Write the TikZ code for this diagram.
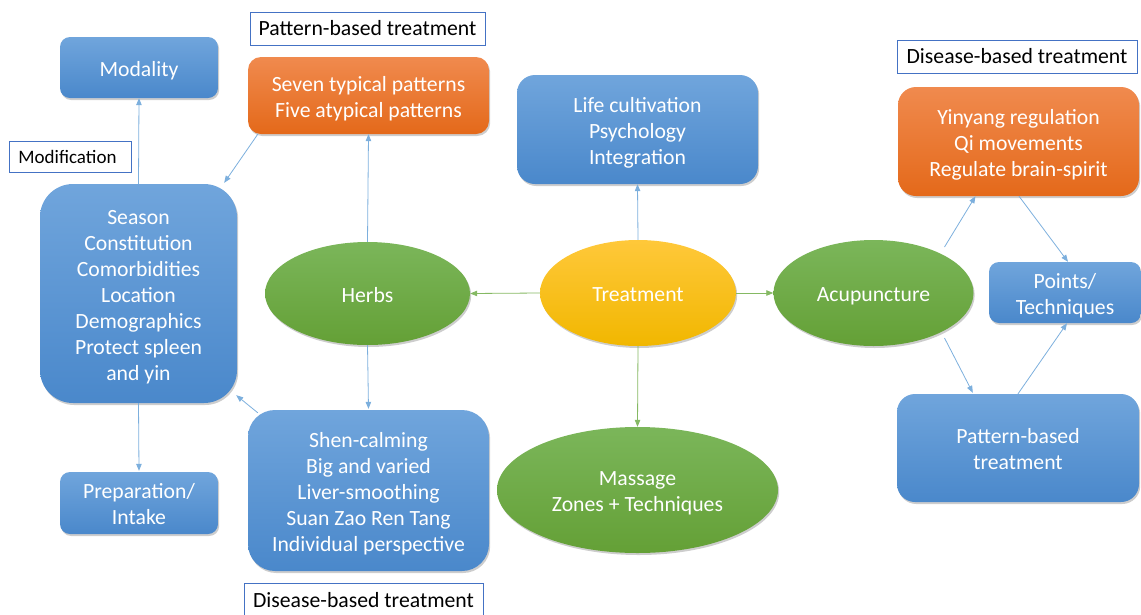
\documentclass[tikz,border=0pt]{standalone}
\usepackage{fontspec}
\setmainfont{Carlito}
\usetikzlibrary{shapes.geometric,shadows,arrows.meta}

\definecolor{blueTop}{HTML}{70A5DC}
\definecolor{blueBot}{HTML}{4A88CB}
\definecolor{orTop}{HTML}{F08A4E}
\definecolor{orBot}{HTML}{E4691A}
\definecolor{grTop}{HTML}{7BB65A}
\definecolor{grBot}{HTML}{64A036}
\definecolor{yeTop}{HTML}{FFC83A}
\definecolor{yeBot}{HTML}{F1B700}
\definecolor{lineBlue}{HTML}{5B9BD5}
\definecolor{lineGreen}{HTML}{70AD47}
\definecolor{tagBorder}{HTML}{4472C4}

% centred lines of text, set a little below the shape's middle
\newcommand\boxlines[1]{\raisebox{-3.5pt}[\height][\depth]{\begin{tabular}{@{}c@{}}#1\end{tabular}}}

\tikzset{
  txt/.style={font=\fontsize{21.7}{26}\selectfont, text=white, inner sep=0pt},
  shade/.style={drop shadow={shadow xshift=1.2pt, shadow yshift=-2pt, opacity=0.28, fill=black!70}},
  bluebox/.style={txt, shade, top color=blueTop, bottom color=blueBot, draw=none},
  orangebox/.style={txt, shade, top color=orTop, bottom color=orBot, draw=none},
  greenell/.style={txt, shade, ellipse, top color=grTop, bottom color=grBot, draw=none},
  yellowell/.style={txt, shade, ellipse, top color=yeTop, bottom color=yeBot, draw=none},
  tag/.style={draw=tagBorder, line width=0.9pt, fill=white, text=black,
    font=\fontsize{21.7}{26}\selectfont, inner sep=0pt},
  bl/.style={draw=lineBlue!80, line width=0.8pt, -{Triangle[length=7pt,width=5.5pt]}},
  gl/.style={draw=lineGreen!85, line width=0.8pt, -{Triangle[length=7pt,width=5.5pt]}},
}

\begin{document}
\begin{tikzpicture}[x=1pt,y=-1pt]
\useasboundingbox (0,0) rectangle (1141,614);

% central hub and the three branches
\node[yellowell, minimum width=196pt, minimum height=106pt] (treat) at (638,293) {\boxlines{Treatment}};
\node[greenell, minimum width=205pt, minimum height=103pt] (herbs) at (367.5,293.5) {\boxlines{Herbs}};
\node[greenell, minimum width=200pt, minimum height=106pt] (acu) at (873.5,293) {\boxlines{Acupuncture}};
\node[greenell, minimum width=281pt, minimum height=126pt] (mass) at (637.5,490) {\boxlines{Massage\\Zones + Techniques}};
\node[bluebox, rounded corners=18pt, minimum width=241pt, minimum height=109pt] (life) at (637.5,129.5)
  {\boxlines{Life cultivation\\Psychology\\Integration}};

% herbs side
\node[orangebox, rounded corners=13pt, minimum width=241pt, minimum height=77pt] (pat) at (368.5,95.5)
  {\boxlines{Seven typical patterns\\Five atypical patterns}};
\node[bluebox, rounded corners=27pt, minimum width=241pt, minimum height=161pt] (shen) at (368.5,490.5)
  {\boxlines{Shen-calming\\Big and varied\\Liver-smoothing\\Suan Zao Ren Tang\\Individual perspective}};
\node[bluebox, rounded corners=33pt, minimum width=197pt, minimum height=219pt] (mod) at (138.5,293.5)
  {\boxlines{Season\\Constitution\\Comorbidities\\Location\\Demographics\\Protect spleen\\and yin}};
\node[bluebox, rounded corners=10pt, minimum width=158pt, minimum height=61pt] (modal) at (139,67.5) {\boxlines{Modality}};
\node[bluebox, rounded corners=10pt, minimum width=158pt, minimum height=62pt] (prep) at (139,503) {\boxlines{Preparation/\\Intake}};

% acupuncture side
\node[orangebox, rounded corners=18pt, minimum width=241pt, minimum height=109pt] (yin) at (1018.5,141.5)
  {\boxlines{Yinyang regulation\\Qi movements\\Regulate brain-spirit}};
\node[bluebox, rounded corners=10pt, minimum width=152pt, minimum height=61pt] (pts) at (1065,292.5) {\boxlines{Points/\\Techniques}};
\node[bluebox, rounded corners=18pt, minimum width=242pt, minimum height=108pt] (pbt) at (1018,448) {\boxlines{Pattern-based\\treatment}};

% caption tags
\node[tag, minimum width=235pt, minimum height=33pt] (tagPat) at (367.5,28.5) {Pattern-based treatment};
\node[tag, minimum width=122pt, minimum height=31pt, font=\fontsize{19}{23}\selectfont] (tagMod) at (70,156.5)
  {\hspace*{-5pt}Modification};
\node[tag, minimum width=240pt, minimum height=33pt] (tagDisR) at (1017,56.5) {Disease-based treatment};
\node[tag, minimum width=239pt, minimum height=33pt] (tagDisB) at (363.5,600) {Disease-based treatment};

% connectors from the hub
\draw[gl] (treat.west) -- (herbs.east);
\draw[gl] (treat.east) -- (acu.west);
\draw[gl] (treat.south) -- (mass.north);
\draw[bl] (treat.north) -- (life.south);

% herbs connectors
\draw[bl] (herbs.north) -- (pat.south);
\draw[bl] (herbs.south) -- ([yshift=1pt]shen.north);
\draw[bl] ([xshift=10pt]pat.south west) -- ([xshift=-13pt,yshift=1pt]mod.north east);
\draw[bl] ([xshift=10pt,yshift=-3pt]shen.north west) -- ([xshift=-1pt,yshift=8pt]mod.south east);
\draw[bl] (mod.north) -- (modal.south);
\draw[bl] (mod.south) -- ([yshift=1pt]prep.north);

% acupuncture connectors
\draw[bl] ([xshift=71pt,yshift=46pt]acu.center) -- ([xshift=-43pt]yin.south);
\draw[bl] ([xshift=0.5pt]yin.south) -- ([xshift=3pt]pts.north);
\draw[bl] ([xshift=71pt,yshift=-45pt]acu.center) -- ([xshift=76pt,yshift=1pt]pbt.north west);
\draw[bl] (pbt.north) -- ([xshift=2pt]pts.south);
\end{tikzpicture}
\end{document}
